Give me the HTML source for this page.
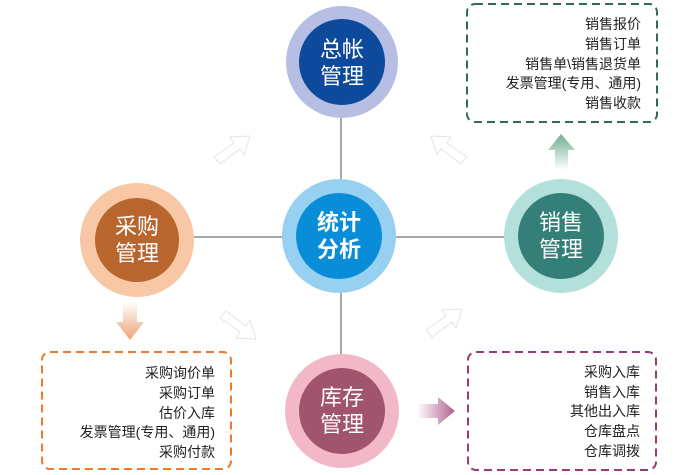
<!DOCTYPE html>
<html><head><meta charset="utf-8"><style>
body{margin:0;background:#fff;width:700px;height:475px;overflow:hidden;font-family:"Liberation Sans","Noto Sans CJK SC",sans-serif}
</style></head><body>
<svg width="700" height="475" viewBox="0 0 700 475" xmlns="http://www.w3.org/2000/svg" style="position:absolute;left:0;top:0">
<defs>
<linearGradient id="gu" x1="0" y1="1" x2="0" y2="0"><stop offset="0" stop-color="#fff"/><stop offset="1" stop-color="#6fae93"/></linearGradient>
<linearGradient id="gd" x1="0" y1="0" x2="0" y2="1"><stop offset="0" stop-color="#fff"/><stop offset="1" stop-color="#eea275"/></linearGradient>
<linearGradient id="gr" x1="0" y1="0" x2="1" y2="0"><stop offset="0" stop-color="#fff"/><stop offset="1" stop-color="#b0628f"/></linearGradient>
</defs>
<g stroke="#a8a8a8" stroke-width="2">
<line x1="341" y1="118" x2="341" y2="355"/>
<line x1="190" y1="237" x2="506" y2="237"/>
</g>
<g fill="none" stroke="#e4e4e4" stroke-width="1">
<path d="M214,157 L234,143 L230,137 L250,136 L244,155 L240,149 L220,164 Z"/>
<path d="M467,157 L447,143 L451,137 L431,136 L437,155 L441,149 L461,164 Z"/>
<path d="M220,318 L240,332 L236,338 L256,339 L250,320 L246,326 L226,311 Z"/>
<path d="M426,330 L446,316 L442,310 L462,309 L456,328 L452,322 L432,337 Z"/>
</g>
<path d="M555,170 L555,150 L548,150 L561,134 L575,150 L568,150 L568,170 Z" fill="url(#gu)"/>
<path d="M123,302 L123,322 L116,322 L130,340 L144,322 L137,322 L137,302 Z" fill="url(#gd)"/>
<path d="M417,404 L438,404 L438,397 L455,411 L438,425 L438,418 L417,418 Z" fill="url(#gr)"/>
<circle cx="342" cy="62" r="56" fill="#b6bee3"/><circle cx="342" cy="62" r="43" fill="#0d4a9c"/>
<circle cx="137" cy="240" r="57" fill="#f8c8a6"/><circle cx="137" cy="240" r="42" fill="#b9652e"/>
<circle cx="561" cy="236" r="57" fill="#b4e0dc"/><circle cx="561" cy="236" r="43" fill="#347f78"/>
<circle cx="342" cy="411" r="57" fill="#f2b8c8"/><circle cx="342" cy="411" r="43" fill="#a0546e"/>
<circle cx="339" cy="236" r="57" fill="#98d0f2"/><circle cx="339" cy="236" r="43" fill="#0a8dd8"/>
<g fill="#fff" font-size="22" text-anchor="middle">
<text x="342" y="57">总帐</text><text x="342" y="84">管理</text>
<text x="137" y="234">采购</text><text x="137" y="261">管理</text>
<text x="561" y="230">销售</text><text x="561" y="257">管理</text>
<text x="342" y="405">库存</text><text x="342" y="432">管理</text>
<text x="339" y="230" font-weight="bold">统计</text><text x="339" y="257" font-weight="bold">分析</text>
</g>
<rect x="467" y="4" width="190" height="118" rx="8" fill="none" stroke="#2f6a5a" stroke-width="2" stroke-dasharray="8,5"/>
<rect x="42" y="352" width="189" height="117" rx="8" fill="none" stroke="#ee7a2a" stroke-width="2" stroke-dasharray="8,5"/>
<rect x="468" y="352" width="188" height="118" rx="8" fill="none" stroke="#9a3a78" stroke-width="2" stroke-dasharray="8,5"/>
<g fill="#222" font-size="14" text-anchor="end">
<text x="641" y="29">销售报价</text><text x="641" y="49">销售订单</text><text x="641" y="69">销售单\销售退货单</text><text x="641" y="88">发票管理(专用、通用)</text><text x="641" y="108">销售收款</text>
<text x="215" y="378">采购询价单</text><text x="215" y="398">采购订单</text><text x="215" y="418">估价入库</text><text x="215" y="437">发票管理(专用、通用)</text><text x="215" y="457">采购付款</text>
<text x="640" y="377">采购入库</text><text x="640" y="397">销售入库</text><text x="640" y="416">其他出入库</text><text x="640" y="436">仓库盘点</text><text x="640" y="456">仓库调拨</text>
</g>
</svg>
</body></html>
